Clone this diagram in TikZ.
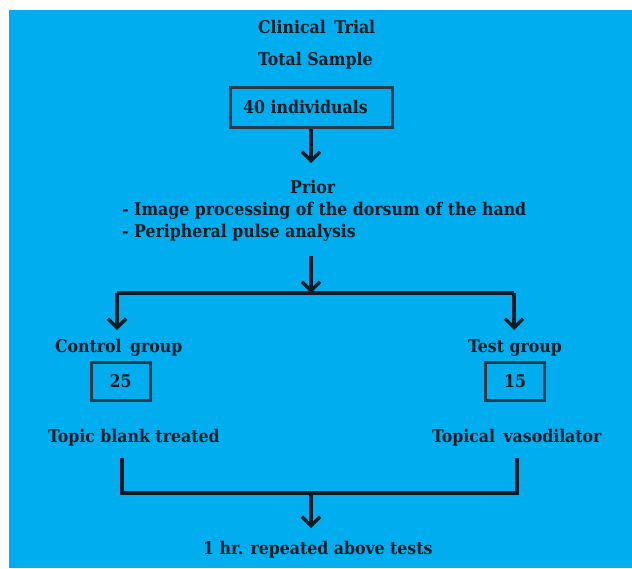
\documentclass[tikz,border=0pt]{standalone}
\usepackage{fontspec}
\setmainfont{DejaVu Serif Condensed}
\usetikzlibrary{arrows.meta}
\definecolor{bgblue}{HTML}{00AEEF}
\definecolor{ink}{HTML}{0B1B26}
\definecolor{boxline}{HTML}{2A3A48}
\tikzset{
  lbl/.style={inner sep=0pt, anchor=base west, text=ink, font=\bfseries\fontsize{17.5}{20}\selectfont},
  numbox/.style={draw=boxline, line width=3pt, minimum width=59pt, minimum height=38pt, inner sep=0pt, text=ink, font=\bfseries\fontsize{17.5}{20}\selectfont},
  conn/.style={draw=ink, line width=3.3pt},
  arr/.style={conn, -{Straight Barb[length=9pt,width=18pt]}},
}
\begin{document}
\begin{tikzpicture}[x=1pt,y=-1pt]
\useasboundingbox (0,0) rectangle (632,568);
\fill[white] (0,0) rectangle (632,568);
\fill[bgblue] (9,10) rectangle (632,568);

\node[lbl] (title) at (258,33) {Clinical\, Trial};
\node[lbl] (total) at (258,65) {Total Sample};
\node[numbox, minimum width=162pt, minimum height=40pt] (box40) at (311,107) {};
\node[lbl] (n40) at (243,113) {40 individuals};

\node[lbl] (prior) at (290,193) {Prior};
\node[lbl] (l1) at (122,215) {- Image processing of the dorsum of the hand};
\node[lbl] (l2) at (122,237) {- Peripheral pulse analysis};

\coordinate (a1end) at (311,163);
\coordinate (a2start) at (311,256);
\coordinate (split) at (311,293);
\coordinate (lc) at (117,293);
\coordinate (rc) at (514,293);
\coordinate (ltip) at (117,330);
\coordinate (rtip) at (514,330);

\node[lbl] (ctrl) at (55,352) {Control\, group};
\node[lbl] (test) at (468,352) {Test group};
\node[numbox] (b25) at (120.5,381) {25};
\node[numbox] (b15) at (515,381) {15};

\node[lbl] (blank) at (48,442) {Topic blank treated};
\node[lbl] (vaso) at (432,442) {Topical\, vasodilator};

\coordinate (lv) at (122,458);
\coordinate (rv) at (517,458);
\coordinate (lb) at (122,493);
\coordinate (rb) at (517,493);
\coordinate (merge) at (311,493);
\coordinate (a3end) at (311,528);

\node[lbl] (final) at (203,554) {1 hr. repeated above tests};

\draw[arr] (box40.south) -- (a1end);
\draw[arr] (a2start) -- (split);
\draw[conn] (lc) -- (rc);
\draw[arr] (lc) -- (ltip);
\draw[arr] (rc) -- (rtip);
\draw[conn, line join=miter] (lv) -- (lb) -- (rb) -- (rv);
\draw[arr] (merge) -- (a3end);
\end{tikzpicture}
\end{document}
